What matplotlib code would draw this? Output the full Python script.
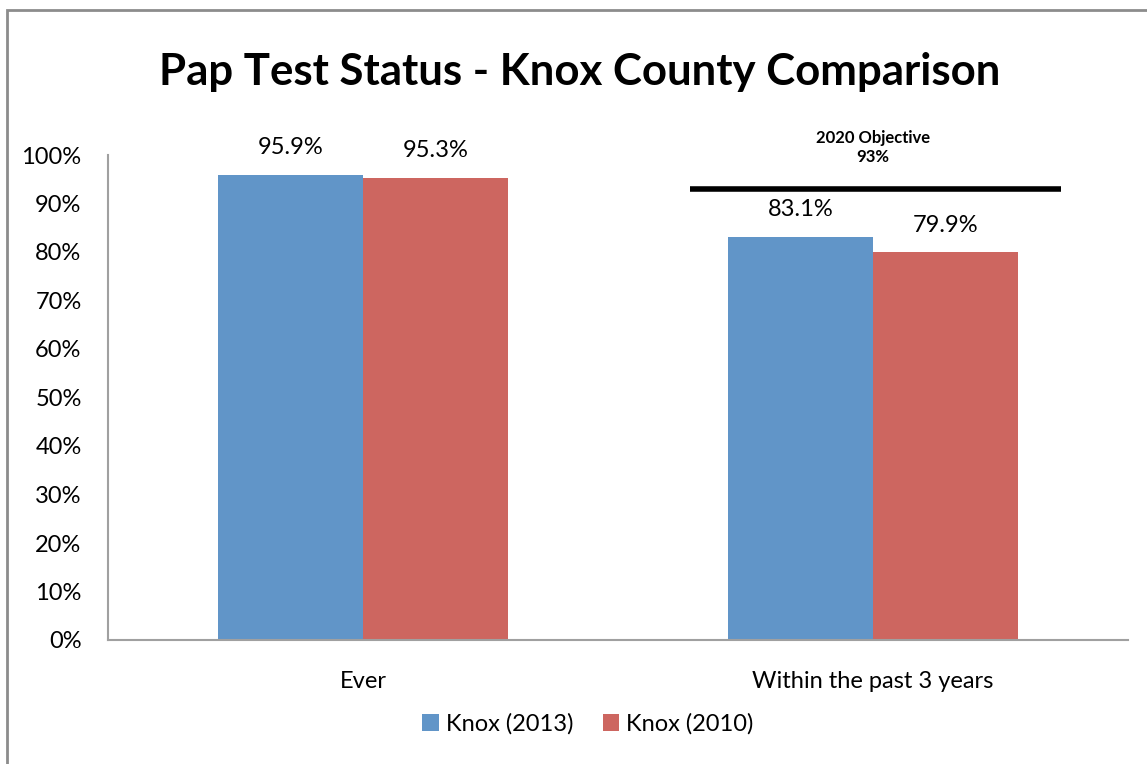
import matplotlib.pyplot as plt
import numpy as np
from matplotlib.patches import Rectangle

categories = ['Ever', 'Within the past 3 years']
series_names = ['Knox (2013)', 'Knox (2010)']
knox_2013 = [95.9, 83.1]
knox_2010 = [95.3, 79.9]
objective = 93
objective_label = '2020 Objective\n93%'
title = 'Pap Test Status - Knox County Comparison'

colors = ['#6195c8', '#cd6660']

plt.rcParams['font.family'] = ['Lato', 'DejaVu Sans']

fig = plt.figure(figsize=(11.47, 7.64), dpi=100)
W, H = 1147, 764

# outer frame of the chart area
fig.patches.append(Rectangle((7 / W, -0.05), 1.1, (764 - 10) / H + 0.05,
                             transform=fig.transFigure, fill=False,
                             edgecolor='#8c8c8c', linewidth=2))

ax = fig.add_axes([108 / W, (H - 640) / H, 1020 / W, (640 - 155) / H])

x = np.arange(len(categories))
width = 0.285
for i, (vals, name) in enumerate(zip([knox_2013, knox_2010], series_names)):
    pos = x + (i - 0.5) * width
    ax.bar(pos, vals, width, color=colors[i], label=name)
    for p, v in zip(pos, vals):
        ax.text(p, v + 5.6, f'{v}%', ha='center', va='center', fontsize=17)

ax.set_xlim(-0.5, 1.5)
ax.set_ylim(0, 100)
ax.set_yticks(np.arange(0, 101, 10))
ax.set_yticklabels([f'{t}%' for t in range(0, 101, 10)], fontsize=17)
ax.set_xticks(x)
ax.set_xticklabels(categories, fontsize=17)
ax.tick_params(axis='y', length=0, pad=19)
ax.tick_params(axis='x', length=0, pad=22)
for s in ['top', 'right']:
    ax.spines[s].set_visible(False)
for s in ['left', 'bottom']:
    ax.spines[s].set_color('#a0a0a0')
    ax.spines[s].set_linewidth(1.5)

# objective line
ax.plot([0.641, 1.369], [objective, objective], color='black', linewidth=4,
        solid_capstyle='butt', clip_on=False)
ax.text(1.0, 101.5, objective_label, ha='center', va='center', fontsize=12,
        fontweight='bold', linespacing=1.25)

fig.text(580 / W, 1 - 72 / H, title, ha='center', va='center', fontsize=31.5,
         fontweight='bold')

ax.legend(loc='center', bbox_to_anchor=(588 / W, (H - 724) / H), bbox_transform=fig.transFigure,
          ncol=2, frameon=False, fontsize=17, handlelength=0.7, handleheight=0.7,
          handletextpad=0.3, columnspacing=1.25)

plt.savefig('out.png', dpi=100)
